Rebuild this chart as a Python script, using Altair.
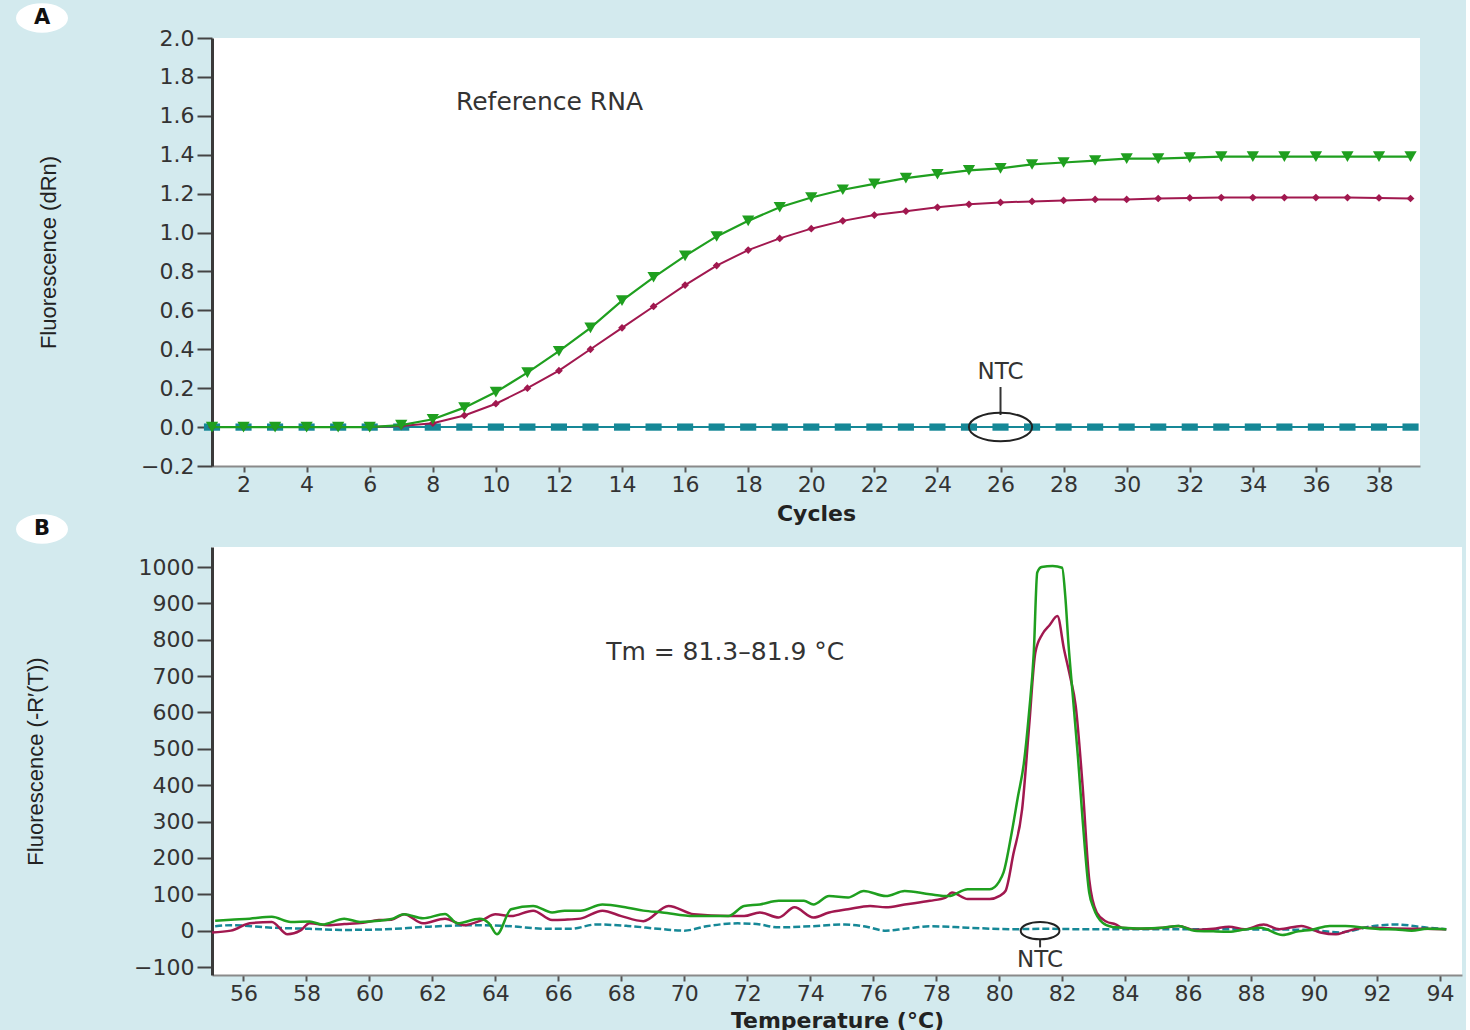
import altair as alt
import pandas as pd

# ---------------- Panel A data (amplification plot) ----------------
cycles = list(range(1, 40))
green_A = [0.0, 0.0, 0.0, 0.0, 0.0, 0.0, 0.01, 0.04, 0.10, 0.18, 0.28, 0.39, 0.51,
           0.65, 0.77, 0.88, 0.98, 1.06, 1.13, 1.18, 1.22, 1.25, 1.28, 1.30, 1.32,
           1.33, 1.35, 1.36, 1.37, 1.38, 1.38, 1.385, 1.39, 1.39, 1.39, 1.39, 1.39,
           1.39, 1.39]
red_A = [0.0, 0.0, 0.0, 0.0, 0.0, 0.0, 0.005, 0.02, 0.06, 0.12, 0.20, 0.29, 0.40,
         0.51, 0.62, 0.73, 0.83, 0.91, 0.97, 1.02, 1.06, 1.09, 1.11, 1.13, 1.145,
         1.155, 1.16, 1.165, 1.17, 1.17, 1.175, 1.178, 1.18, 1.18, 1.18, 1.18, 1.18,
         1.178, 1.175]
ntc_A = [0.0, 0.0, 0.0, 0.0, 0.0, 0.0, 0.0, 0.0, 0.0, 0.0, 0.0, 0.0, 0.0, 0.0,
         0.0, 0.0, 0.0, 0.0, 0.0, 0.0, 0.0, 0.0, 0.0, 0.0, 0.0, 0.0, 0.0, 0.0,
         0.0, 0.0, 0.0, 0.0, 0.0, 0.0, 0.0, 0.0, 0.0, 0.0, 0.0]
x_ticks_A = list(range(2, 39, 2))
y_ticks_A = [-0.2, 0.0, 0.2, 0.4, 0.6, 0.8, 1.0, 1.2, 1.4, 1.6, 1.8, 2.0]

# ---------------- Panel B data (melt curve) ----------------
temp_green_B = [55.1, 55.6, 56.2, 56.9, 57.5, 58.1, 58.5, 59.2, 59.7, 60.3, 60.7, 61.1,
                61.7, 62.4, 62.8, 63.5, 63.8, 64.05, 64.5, 65.2, 65.8, 66.2, 66.7,
                67.4, 68.2, 68.7, 69.3, 70.3, 71.4, 71.9, 72.4, 73.0, 73.8, 74.1,
                74.6, 75.2, 75.7, 76.4, 77.0, 77.8, 78.4, 79.0, 79.7, 80.0, 80.14,
                80.4, 80.6, 80.78, 80.95, 81.1, 81.21, 81.35, 81.7, 82.0, 82.1, 82.2,
                82.33, 82.5, 82.65, 82.86, 83.0, 83.28, 83.6, 83.9, 84.5, 85.2, 85.7,
                86.2, 86.8, 87.3, 87.8, 88.3, 89.0, 89.5, 89.9, 90.5, 91.0, 91.6,
                92.1, 92.6, 93.1, 93.6, 94.2]
green_B = [27, 30, 33, 38, 24, 25, 17, 33, 24, 27, 32, 45,
           34, 46, 20, 33, 20, -10, 59, 68, 50, 55, 55,
           72, 63, 55, 50, 40, 40, 68, 72, 82, 82, 72,
           95, 91, 109, 95, 109, 100, 95, 114, 114, 135, 160,
           270, 370, 457, 600, 765, 985, 1000, 1003, 998, 920, 790,
           655, 480, 306, 105, 62, 22, 10, 8, 6, 8, 13,
           0, -2, -3, 3, 8, -12, -2, 2, 13, 13, 8,
           4, 3, 0, 5, 4]
temp_red_B = [55.0, 55.6, 56.2, 56.9, 57.4, 57.8, 58.1, 58.7, 59.2, 59.8, 60.3, 60.7,
              61.1, 61.7, 62.4, 63.0, 63.6, 64.0, 64.5, 65.2, 65.8, 66.2, 66.7, 67.4,
              68.0, 68.7, 69.5, 70.3, 71.4, 71.9, 72.4, 73.0, 73.5, 74.1, 74.6, 75.2,
              75.9, 76.4, 77.0, 77.8, 78.3, 78.5, 79.0, 79.7, 80.0, 80.2, 80.45,
              80.73, 80.95, 81.15, 81.37, 81.6, 81.85, 82.06, 82.25, 82.43, 82.65,
              82.86, 83.1, 83.4, 83.7, 83.9, 84.5, 85.2, 85.7, 86.2, 86.8, 87.3,
              87.8, 88.4, 88.9, 89.6, 90.2, 90.7, 91.0, 91.6, 92.5, 93.5, 94.2]
red_B = [-5, 0, 20, 24, -10, 0, 20, 15, 18, 22, 29, 30,
         45, 20, 33, 15, 30, 45, 40, 55, 29, 30, 33, 55,
         40, 26, 68, 45, 40, 40, 50, 36, 64, 36, 50, 59,
         68, 64, 72, 82, 91, 105, 87, 87, 95, 109, 210,
         334, 560, 765, 815, 840, 865, 774, 700, 619, 399,
         141, 50, 25, 17, 8, 5, 8, 13, 2, 5, 11,
         4, 17, 4, 13, -5, -10, -3, 8, 6, 5, 4]
temp_ntc_B = [55.1, 55.6, 56.9, 58.1, 59.2, 60.3, 61.9, 63.5, 64.5, 65.6, 66.4, 67.2,
              68.2, 69.3, 70.0, 70.7, 71.7, 72.3, 73.0, 74.0, 75.1, 75.7, 76.4, 77.0,
              77.8, 79.0, 80.4, 81.5, 82.5, 85.7, 88.9, 89.9, 90.8, 91.9, 92.6, 93.6,
              94.2]
ntc_B = [12, 15, 8, 5, 2, 3, 11, 15, 12, 5, 5, 17,
         13, 4, 0, 12, 20, 18, 9, 12, 17, 12, 0, 5,
         12, 8, 4, 5, 4, 4, 3, 2, -5, 13, 17, 8,
         4]
x_ticks_B = list(range(56, 95, 2))
y_ticks_B = [-100, 0, 100, 200, 300, 400, 500, 600, 700, 800, 900, 1000]

# annotation anchors (data coordinates)
ntc_A_pos = {"x": [26], "text_y": [0.283], "rule_y": [0.062], "rule_y2": [0.206], "ring_y": [0.0]}
ntc_B_pos = {"x": [81.3], "text_y": [-82], "rule_y": [-24], "rule_y2": [-46], "ring_y": [0.0]}
label_A = {"x": [11.7], "y": [1.67], "text": ["Reference RNA"]}
label_B = {"x": [71.3], "y": [765], "text": ["Tm = 81.3\u201381.9 \u00b0C"]}

# ---------------- styling ----------------
BG = "#d3eaee"
GREEN = "#1f9f1f"
RED = "#a1184f"
TEAL = "#168897"
FONT = "DejaVu Sans"
TITLE_FONT = "Liberation Sans"
ELLIPSE = "M-1,0A1,0.45,0,1,0,1,0A1,0.45,0,1,0,-1,0Z"
TAG = "M-1,0A1,0.55,0,1,0,1,0A1,0.55,0,1,0,-1,0Z"
RECT = "M-1,-0.45L1,-0.45L1,0.45L-1,0.45Z"


def x_axis(values, title, tpad):
    return alt.Axis(values=values, tickCount=40, title=title, grid=False,
                    domainColor="#8a8a8a", domainWidth=2, tickColor="#555", tickSize=6,
                    tickWidth=2, labelFontSize=22, labelFont=FONT, labelColor="#333",
                    labelPadding=2, labelFlush=False, labelOverlap=False,
                    titleFont=FONT, titleFontSize=22, titleFontWeight="bold",
                    titleColor="#222", titlePadding=tpad)


def y_axis(values, title, fmt, pad):
    return alt.Axis(values=values, tickCount=40, title=title, grid=False, format=fmt,
                    domainColor="#3a3a3a", domainWidth=3, tickColor="#444",
                    tickSize=15, tickWidth=2, labelFontSize=22, labelFont=FONT,
                    labelColor="#333", labelPadding=3, labelFlush=False,
                    labelOverlap=False, titleFont=TITLE_FONT, titleFontSize=22,
                    titleFontWeight="normal", titleColor="#222", titlePadding=pad)


def panel_tag(letter, dx, dy):
    base = alt.Chart(pd.DataFrame({"t": [letter]}))
    ring = base.mark_point(shape=TAG, filled=True, fill="white", stroke="white",
                           size=2500, opacity=1).encode(x=alt.value(dx), y=alt.value(dy))
    txt = base.mark_text(fontSize=21, fontWeight="bold", font=FONT, color="#111").encode(
        x=alt.value(dx), y=alt.value(dy), text="t:N")
    return ring + txt


# ---------------- Panel A ----------------
dfA = pd.DataFrame({"cycle": cycles, "green": green_A, "red": red_A, "ntc": ntc_A})
xA = alt.X("cycle:Q", scale=alt.Scale(domain=[1, 39.3], nice=False, zero=False),
           axis=x_axis(x_ticks_A, "Cycles", 8))
yA_axis = y_axis(y_ticks_A, "Fluorescence (dRn)", ".1f", 80)
yA_scale = alt.Scale(domain=[-0.2, 2.0], nice=False, zero=False)

baseA = alt.Chart(dfA)
ntcA_line = baseA.mark_line(color=TEAL, strokeWidth=2).encode(
    x=xA, y=alt.Y("ntc:Q", scale=yA_scale, axis=yA_axis))
ntcA_pts = baseA.mark_point(shape=RECT, filled=True, color=TEAL, size=260, opacity=1).encode(
    x="cycle:Q", y="ntc:Q")
redA_line = baseA.mark_line(color=RED, strokeWidth=2).encode(x="cycle:Q", y="red:Q")
redA_pts = baseA.mark_point(shape="diamond", filled=True, color=RED, size=60, opacity=1).encode(
    x="cycle:Q", y="red:Q")
greenA_line = baseA.mark_line(color=GREEN, strokeWidth=2.2).encode(x="cycle:Q", y="green:Q")
greenA_pts = baseA.mark_point(shape="triangle-down", filled=True, color=GREEN, size=150,
                              opacity=1).encode(x="cycle:Q", y="green:Q")

annA = alt.Chart(pd.DataFrame(ntc_A_pos))
ntcA_text = annA.mark_text(text="NTC", fontSize=23, font=FONT, color="#333").encode(
    x="x:Q", y="text_y:Q")
ntcA_rule = annA.mark_rule(color="#333", strokeWidth=2).encode(
    x="x:Q", y="rule_y:Q", y2="rule_y2:Q")
ntcA_ring = annA.mark_point(shape=ELLIPSE, filled=False, color="#222", strokeWidth=2,
                            size=4000, opacity=1).encode(x="x:Q", y="ring_y:Q")
refA = alt.Chart(pd.DataFrame(label_A)).mark_text(fontSize=25, font=FONT, color="#333").encode(
    x="x:Q", y="y:Q", text="text:N")

chartA = alt.layer(
    ntcA_line, ntcA_pts, redA_line, redA_pts, greenA_line, greenA_pts,
    ntcA_rule, ntcA_ring, ntcA_text, refA,
    panel_tag("A", -170, -20), panel_tag("B", -170, 491)
).properties(width=1208, height=428)

# ---------------- Panel B ----------------
xB_scale = alt.Scale(domain=[55, 94.7], nice=False, zero=False)
yB_scale = alt.Scale(domain=[-122, 1055], nice=False, zero=False)
xB_axis = x_axis(x_ticks_B, "Temperature (\u00b0C)", 6)
yB_axis = y_axis(y_ticks_B, "Fluorescence (-R\u2032(T))", "d", 86)

ntcB = alt.Chart(pd.DataFrame({"t": temp_ntc_B, "v": ntc_B})).mark_line(
    color=TEAL, strokeWidth=2.5, strokeDash=[7, 3], interpolate="monotone").encode(
    x=alt.X("t:Q", scale=xB_scale, axis=xB_axis),
    y=alt.Y("v:Q", scale=yB_scale, axis=yB_axis))
redB = alt.Chart(pd.DataFrame({"t": temp_red_B, "v": red_B})).mark_line(
    color=RED, strokeWidth=2.5, interpolate="monotone").encode(x="t:Q", y="v:Q")
greenB = alt.Chart(pd.DataFrame({"t": temp_green_B, "v": green_B})).mark_line(
    color=GREEN, strokeWidth=2.5, interpolate="monotone").encode(x="t:Q", y="v:Q")

annB = alt.Chart(pd.DataFrame(ntc_B_pos))
ntcB_text = annB.mark_text(text="NTC", fontSize=23, font=FONT, color="#333").encode(
    x="x:Q", y="text_y:Q")
ntcB_rule = annB.mark_rule(color="#333", strokeWidth=2).encode(
    x="x:Q", y="rule_y:Q", y2="rule_y2:Q")
ntcB_ring = annB.mark_point(shape=ELLIPSE, filled=False, color="#222", strokeWidth=2,
                            size=1500, opacity=1).encode(x="x:Q", y="ring_y:Q")
tmB = alt.Chart(pd.DataFrame(label_B)).mark_text(fontSize=25, font=FONT, color="#333").encode(
    x="x:Q", y="y:Q", text="text:N")

chartB = alt.layer(
    ntcB, redB, greenB, ntcB_rule, ntcB_ring, ntcB_text, tmB
).properties(width=1250, height=428)

chart = alt.vconcat(chartA, chartB, spacing=-7).properties(
    background=BG,
    padding={"left": 13, "top": 0, "right": 4, "bottom": 0},
).configure_view(fill="white", stroke=None)

chart.save("out.html", embed_options={"renderer": "svg", "actions": False})
